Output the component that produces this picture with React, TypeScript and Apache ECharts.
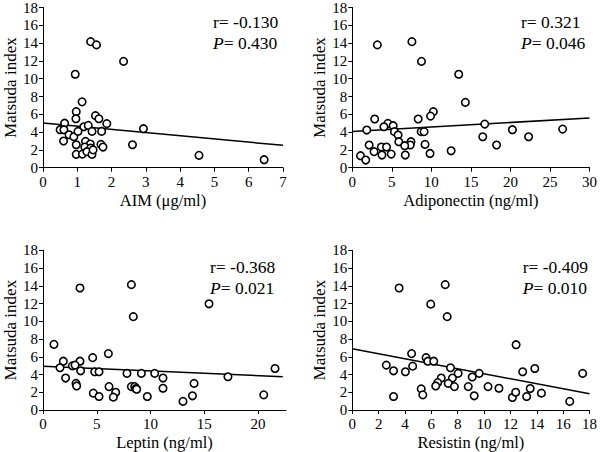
import React, { useEffect, useRef } from "react";
import * as echarts from "echarts";

// Panel 1: AIM
const aimX = [1.39, 1.56, 2.35, 0.94, 1.14, 0.97, 0.96, 1.53, 1.63, 0.63, 1.86, 1.19, 1.32, 0.5, 0.61, 0.76, 0.9, 1.02, 1.43, 1.71, 2.93, 0.6, 0.97, 1.24, 1.38, 1.69, 1.75, 1.22, 1.39, 2.61, 0.97, 1.15, 1.28, 1.43, 1.46, 4.55, 6.45];
const aimY = [14.16, 13.8, 11.95, 10.5, 7.4, 6.3, 5.5, 5.85, 5.5, 5.0, 4.95, 4.6, 4.75, 4.27, 4.27, 3.7, 3.48, 4.08, 4.08, 4.08, 4.38, 3.0, 2.58, 2.96, 2.66, 2.62, 2.32, 2.32, 2.2, 2.58, 1.5, 1.53, 1.8, 1.5, 2.0, 1.39, 0.9];
const aimFit = [[0, 5.02], [7, 2.51]];

// Panel 2: Adiponectin
const adipoX = [3.17, 7.54, 8.75, 13.46, 14.3, 10.25, 9.9, 2.83, 8.33, 4.5, 5.17, 4.0, 1.83, 5.33, 5.79, 5.88, 7.42, 7.33, 8.71, 9.08, 9.2, 16.75, 16.5, 20.25, 22.3, 26.6, 18.25, 12.5, 9.83, 2.13, 3.67, 4.33, 2.75, 3.75, 4.92, 6.7, 1.04, 1.7, 6.63];
const adipoY = [13.8, 14.16, 11.95, 10.5, 7.34, 6.3, 5.8, 5.47, 5.47, 4.98, 4.72, 4.6, 4.23, 4.05, 3.67, 2.92, 2.92, 2.55, 4.05, 4.05, 2.62, 4.9, 3.48, 4.27, 3.48, 4.34, 2.55, 1.9, 1.6, 2.55, 2.32, 2.32, 1.8, 1.42, 1.53, 1.42, 1.35, 0.86, 2.47];
const adipoFit = [[0, 4.08], [30, 5.58]];

// Panel 3: Leptin
const leptinX = [3.44, 8.22, 8.4, 15.44, 1.02, 6.08, 1.89, 3.44, 4.62, 1.58, 2.73, 2.98, 3.5, 4.81, 5.21, 7.81, 9.15, 10.39, 11.16, 17.2, 21.58, 2.1, 3.07, 3.13, 6.14, 8.22, 8.53, 8.65, 8.71, 14.05, 11.16, 4.68, 6.76, 5.21, 6.54, 9.7, 13.9, 13.02, 20.53];
const leptinY = [13.75, 14.13, 10.52, 11.97, 7.4, 6.36, 5.5, 5.5, 5.9, 4.76, 4.98, 5.06, 4.42, 4.31, 4.31, 4.13, 4.13, 4.13, 3.6, 3.75, 4.68, 3.6, 3.0, 2.71, 2.64, 2.64, 2.64, 2.42, 2.34, 3.0, 2.45, 1.9, 2.0, 1.52, 1.45, 1.52, 1.6, 0.97, 1.71];
const leptinFit = [[0, 4.94], [22.3, 3.75]];

// Panel 4: Resistin
const resistinX = [3.55, 7.05, 5.95, 7.2, 12.43, 4.5, 2.58, 4.58, 3.13, 4.03, 5.6, 5.73, 6.18, 7.45, 7.6, 6.75, 6.48, 6.33, 7.28, 7.75, 8.03, 9.1, 9.63, 8.8, 10.3, 11.13, 12.93, 13.85, 17.48, 5.23, 5.35, 3.13, 9.25, 12.15, 12.4, 13.23, 13.5, 14.35, 16.5];
const resistinY = [13.75, 14.13, 11.93, 10.52, 7.36, 6.36, 5.06, 4.94, 4.42, 4.31, 5.9, 5.5, 5.5, 4.76, 3.6, 3.6, 3.09, 2.71, 3.0, 2.64, 4.13, 3.72, 4.13, 2.64, 2.64, 2.45, 4.31, 4.68, 4.13, 2.38, 1.71, 1.52, 1.6, 1.41, 2.0, 1.52, 2.42, 1.9, 0.97];
const resistinFit = [[0, 6.91], [18, 1.82]];

const xTitles = ["AIM (μg/ml)", "Adiponectin (ng/ml)", "Leptin (ng/ml)", "Resistin (ng/ml)"];
const yTitle = "Matsuda index";
const rValues = ["-0.130", "0.321", "-0.368", "-0.409"];
const pValues = ["0.430", "0.046", "0.021", "0.010"];

const FONT = '"Liberation Serif", "Times New Roman", serif';

const zip = (xs: number[], ys: number[]) => xs.map((x, i) => [x, ys[i]]);

export default function App() {
  const ref = useRef<HTMLDivElement>(null);
  useEffect(() => {
    if (!ref.current) return;
    const chart = echarts.init(ref.current, undefined, { renderer: "svg" });

    const grids = [
      { left: 43, top: 7.3, width: 240, height: 160.4 },
      { left: 352.3, top: 7.3, width: 240, height: 160.4 },
      { left: 43, top: 250.3, width: 243, height: 161.4 },
      { left: 352.3, top: 250.3, width: 240, height: 161.4 },
    ];
    const xCfg = [
      { min: 0, max: 7, interval: 1 },
      { min: 0, max: 30, interval: 5 },
      { min: 0, max: 22.6, interval: 5, custom: [0, 5, 10, 15, 20] },
      { min: 0, max: 18, interval: 2 },
    ];
    const scatterData = [
      zip(aimX, aimY),
      zip(adipoX, adipoY),
      zip(leptinX, leptinY),
      zip(resistinX, resistinY),
    ];
    const fits = [aimFit, adipoFit, leptinFit, resistinFit];
    const textPos = [
      { x: 213, y: 23 },
      { x: 521, y: 23 },
      { x: 210, y: 268 },
      { x: 522.7, y: 268 },
    ];

    const axisLine = { show: true, lineStyle: { color: "#000", width: 1 } };
    const axisTick = { show: true, length: 4, lineStyle: { color: "#000", width: 1 } };
    const tickFont = { fontFamily: FONT, fontSize: 15, color: "#000" };

    const xAxis = xCfg.map((c: any, i) => ({
      type: "value",
      gridIndex: i,
      min: c.min,
      max: c.max,
      interval: c.interval,
      name: xTitles[i],
      nameLocation: "middle",
      nameGap: 24,
      nameTextStyle: { fontFamily: FONT, fontSize: 16.5, color: "#000" },
      axisLine,
      axisTick: c.custom ? { ...axisTick, customValues: c.custom } : axisTick,
      axisLabel: c.custom
        ? { ...tickFont, margin: 6.5, customValues: c.custom }
        : { ...tickFont, margin: 6.5 },
      splitLine: { show: false },
    }));
    const yAxis = grids.map((_, i) => ({
      type: "value",
      gridIndex: i,
      min: 0,
      max: 18,
      interval: 2,
      name: yTitle,
      nameLocation: "middle",
      nameGap: 24,
      nameTextStyle: { fontFamily: FONT, fontSize: 17, color: "#000" },
      axisLine,
      axisTick,
      axisLabel: { ...tickFont, margin: 5 },
      splitLine: { show: false },
    }));

    const series: any[] = [];
    for (let i = 0; i < 4; i++) {
      series.push({
        type: "line",
        xAxisIndex: i,
        yAxisIndex: i,
        data: fits[i],
        showSymbol: false,
        symbol: "none",
        lineStyle: { color: "#000", width: 1.5 },
        z: 1,
      });
      series.push({
        type: "scatter",
        xAxisIndex: i,
        yAxisIndex: i,
        data: scatterData[i],
        symbol: "circle",
        symbolSize: 7.5,
        itemStyle: { color: "#fff", borderColor: "#000", borderWidth: 1.6, opacity: 1 },
        z: 2,
      });
    }

    const graphic: any[] = [];
    for (let i = 0; i < 4; i++) {
      graphic.push({
        type: "text",
        left: textPos[i].x,
        top: textPos[i].y - 10,
        style: {
          text: "r= " + rValues[i],
          font: `17.5px ${FONT}`,
          fill: "#000",
        },
      });
      graphic.push({
        type: "text",
        left: textPos[i].x,
        top: textPos[i].y + 11,
        style: {
          text: "{i|P}= " + pValues[i],
          font: `17.5px ${FONT}`,
          fill: "#000",
          rich: { i: { fontStyle: "italic", fontFamily: FONT, fontSize: 17.5, fill: "#000" } },
        },
      });
    }

    chart.setOption({
      animation: false,
      backgroundColor: "#fff",
      grid: grids,
      xAxis,
      yAxis,
      series,
      graphic,
    });
    return () => chart.dispose();
  }, []);

  return (
    <div
      ref={ref}
      style={{ position: "fixed", left: 0, top: 0, width: 600, height: 452, background: "#fff" }}
    />
  );
}
